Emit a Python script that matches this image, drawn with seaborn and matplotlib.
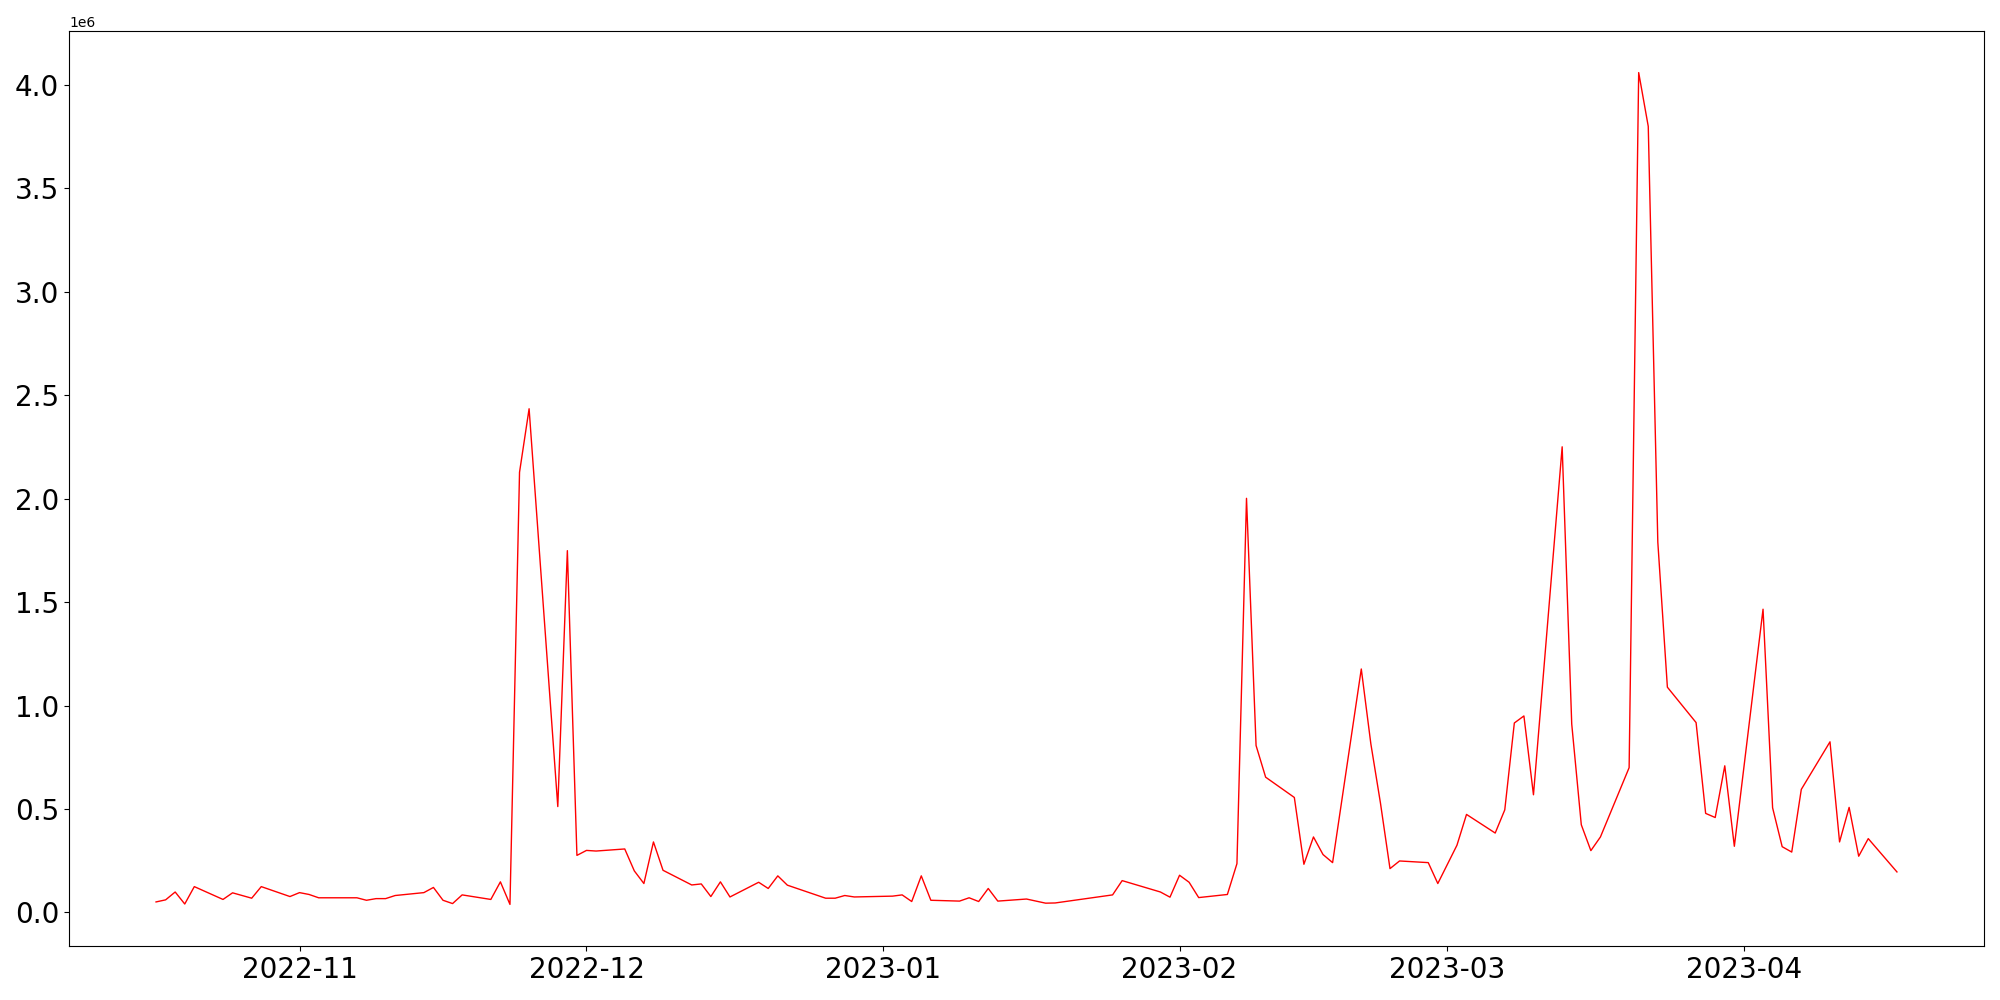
import pandas as pd
import numpy as np
import matplotlib
matplotlib.use("Agg")
import matplotlib.pyplot as plt
import seaborn as sns

# trading days (only the visible vertices)
dates = ["2022-10-17", "2022-10-18", "2022-10-19", "2022-10-20", "2022-10-21",
         "2022-10-24", "2022-10-25", "2022-10-27", "2022-10-28", "2022-10-31",
         "2022-11-01", "2022-11-02", "2022-11-03", "2022-11-07", "2022-11-08",
         "2022-11-09", "2022-11-10", "2022-11-11", "2022-11-14", "2022-11-15",
         "2022-11-16", "2022-11-17", "2022-11-18", "2022-11-21", "2022-11-22",
         "2022-11-23", "2022-11-24", "2022-11-25", "2022-11-28", "2022-11-29",
         "2022-11-30", "2022-12-01", "2022-12-02", "2022-12-05", "2022-12-06",
         "2022-12-07", "2022-12-08", "2022-12-09", "2022-12-12", "2022-12-13",
         "2022-12-14", "2022-12-15", "2022-12-16", "2022-12-19", "2022-12-20",
         "2022-12-21", "2022-12-22", "2022-12-26", "2022-12-27", "2022-12-28",
         "2022-12-29", "2023-01-02", "2023-01-03", "2023-01-04", "2023-01-05",
         "2023-01-06", "2023-01-09", "2023-01-10", "2023-01-11", "2023-01-12",
         "2023-01-13", "2023-01-16", "2023-01-18", "2023-01-19", "2023-01-25",
         "2023-01-26", "2023-01-30", "2023-01-31", "2023-02-01", "2023-02-02",
         "2023-02-03", "2023-02-06", "2023-02-07", "2023-02-08", "2023-02-09",
         "2023-02-10", "2023-02-13", "2023-02-14", "2023-02-15", "2023-02-16",
         "2023-02-17", "2023-02-20", "2023-02-21", "2023-02-22", "2023-02-23",
         "2023-02-24", "2023-02-27", "2023-02-28", "2023-03-02", "2023-03-03",
         "2023-03-06", "2023-03-07", "2023-03-08", "2023-03-09", "2023-03-10",
         "2023-03-13", "2023-03-14", "2023-03-15", "2023-03-16", "2023-03-17",
         "2023-03-20", "2023-03-21", "2023-03-22", "2023-03-23", "2023-03-24",
         "2023-03-27", "2023-03-28", "2023-03-29", "2023-03-30", "2023-03-31",
         "2023-04-03", "2023-04-04", "2023-04-05", "2023-04-06", "2023-04-07",
         "2023-04-10", "2023-04-11", "2023-04-12", "2023-04-13", "2023-04-14",
         "2023-04-17"]

# values in millions
values_m = [0.051, 0.061, 0.099, 0.041, 0.125,
            0.063, 0.095, 0.069, 0.125, 0.077,
            0.096, 0.087, 0.071, 0.071, 0.059,
            0.067, 0.067, 0.082, 0.096, 0.121,
            0.059, 0.043, 0.085, 0.063, 0.148,
            0.039, 2.128, 2.435, 0.512, 1.749,
            0.276, 0.300, 0.297, 0.307, 0.201,
            0.140, 0.341, 0.204, 0.133, 0.138,
            0.077, 0.148, 0.075, 0.146, 0.116,
            0.177, 0.132, 0.069, 0.069, 0.082,
            0.075, 0.079, 0.085, 0.053, 0.177,
            0.059, 0.055, 0.071, 0.053, 0.116,
            0.055, 0.065, 0.045, 0.046, 0.085,
            0.154, 0.099, 0.074, 0.180, 0.146,
            0.072, 0.087, 0.236, 2.002, 0.807,
            0.654, 0.556, 0.233, 0.365, 0.280,
            0.241, 1.177, 0.815, 0.530, 0.212,
            0.249, 0.241, 0.140, 0.325, 0.474,
            0.384, 0.496, 0.916, 0.950, 0.569,
            2.251, 0.911, 0.424, 0.299, 0.365,
            0.700, 4.060, 3.800, 1.790, 1.089,
            0.918, 0.479, 0.459, 0.709, 0.320,
            1.466, 0.506, 0.318, 0.292, 0.595,
            0.825, 0.341, 0.508, 0.272, 0.357,
            0.196]

df = pd.DataFrame({"date": pd.to_datetime(dates),
                   "value": np.array(values_m) * 1e6})

fig, ax = plt.subplots(figsize=(20, 10), dpi=100)
sns.lineplot(data=df, x="date", y="value", color="red", linewidth=1, ax=ax)
ax.set_xlabel("")
ax.set_ylabel("")
ax.tick_params(axis="both", labelsize=20)

fig.subplots_adjust(left=0.0345, right=0.992, bottom=0.054, top=0.969)
fig.savefig("out.png", dpi=100)
